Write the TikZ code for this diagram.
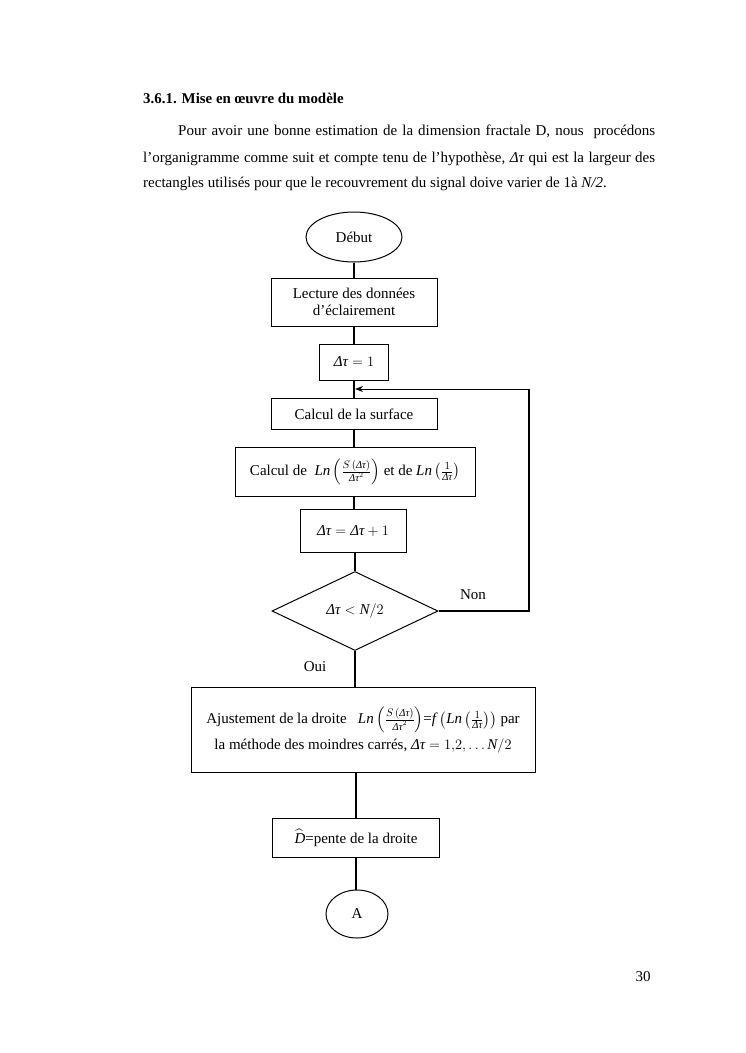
\documentclass[tikz,border=0pt]{standalone}
\usepackage{amsmath}
\usepackage{fontspec}
\setmainfont{Liberation Serif}
\usetikzlibrary{shapes.geometric,arrows.meta}
\newcommand{\dt}{\text{\itshape Δτ}}
\newcommand{\mN}{\text{\itshape N}}
\begin{document}
\begin{tikzpicture}[x=1pt,y=-1pt,
  box/.style={draw,line width=1pt,inner sep=2pt,align=center,font=\fontsize{15}{17}\selectfont},
  term/.style={draw,ellipse,line width=1pt,inner sep=0pt,font=\fontsize{15}{17}\selectfont},
  conn/.style={line width=1.6pt},
  lbl/.style={font=\fontsize{15}{17}\selectfont,inner sep=0pt}]
\useasboundingbox (0,0) rectangle (745,1053);
\fill[white] (0,0) rectangle (745,1053);
% heading and paragraph
\node[anchor=base west,inner sep=0pt,font=\fontsize{14.9}{17}\selectfont\bfseries] (h) at (143,103) {3.6.1. Mise en œuvre du modèle};
\node[anchor=base west,inner sep=0pt,font=\fontsize{15}{18}\selectfont] (p1) at (178,135) {\hbox to 477pt{Pour avoir une bonne estimation de la dimension fractale D, nous\ \ procédons}};
\node[anchor=base west,inner sep=0pt,font=\fontsize{15}{18}\selectfont] (p2) at (143,162) {\hbox to 512pt{l’organigramme comme suit et compte tenu de l’hypothèse, $\dt$ qui est la largeur des}};
\node[anchor=base west,inner sep=0pt,font=\fontsize{15}{18}\selectfont] (p3) at (143,187) {rectangles utilisés pour que le recouvrement du signal doive varier de 1à \textit{N/2}.};
% flowchart
\node[term,minimum width=96pt,minimum height=50pt] (deb) at (354,237) {Début};
\node[box,minimum width=166pt,minimum height=48pt] (lec) at (354,302) {Lecture des données\\d’éclairement};
\node[box,minimum width=69pt,minimum height=36pt] (init) at (354,362) {$\dt = 1$};
\node[box,minimum width=166pt,minimum height=31pt] (surf) at (354,414) {Calcul de la surface};
\node[box,minimum width=240pt,minimum height=49pt] (ln) at (355,472) {Calcul de\ \ $\mathit{Ln}\left(\frac{S\,(\dt)}{\dt^2}\right)$ et de $\mathit{Ln}\left(\frac{1}{\dt}\right)$};
\node[box,minimum width=106pt,minimum height=43pt] (inc) at (353,531) {$\dt = \dt + 1$};
\node[draw,diamond,aspect=2.1,line width=1pt,inner sep=0pt,minimum width=166pt,minimum height=79pt,font=\fontsize{15}{17}\selectfont] (dec) at (355,611) {$\dt < \mN/2$};
\node[box,minimum width=344pt,minimum height=85pt] (aj) at (363,730) {Ajustement de la droite\ \ \ $\mathit{Ln}\left(\frac{S\,(\dt)}{\dt^2}\right)$=$\mathit{f}$ $\left(\mathit{Ln}\left(\frac{1}{\dt}\right)\right)$ par\\[4pt]la méthode des moindres carrés, $\dt = 1{,}2,\ldots \mN/2$};
\node[box,minimum width=167pt,minimum height=39pt] (pente) at (356,838) {$\widehat{\text{\itshape D}}$=pente de la droite};
\node[term,minimum width=62pt,minimum height=48pt] (A) at (357,914) {A};
\coordinate (j) at (355,389);
\coordinate (r) at (529,611);
% connectors
\draw[conn] (deb.south) -- (deb.south |- lec.north);
\draw[conn] (lec.south -| deb.south) -- (deb.south |- init.north);
\draw[conn] (init.south -| deb.south) -- (deb.south |- surf.north);
\draw[conn] (surf.south -| deb.south) -- (deb.south |- ln.north);
\draw[conn] (ln.south -| deb.south) -- (deb.south |- inc.north);
\draw[conn] (inc.south -| dec.north) -- (dec.north);
\draw[conn] (dec.south) -- (dec.south |- aj.north);
\draw[conn] (aj.south -| pente.north) -- (pente.north);
\draw[conn] (pente.south) -- (pente.south |- A.north);
\draw[conn] (dec.east) -- (r) -- (r |- j);
\draw[line width=1pt,-{Stealth[length=8pt,width=6pt]}] (r |- j) -- (j);
\node[lbl,anchor=base] (non) at (473,599) {Non};
\node[lbl,anchor=base] (oui) at (315,671) {Oui};
\node[anchor=base,inner sep=0pt,font=\fontsize{15}{18}\selectfont] (pg) at (643,981) {30};
\end{tikzpicture}
\end{document}
